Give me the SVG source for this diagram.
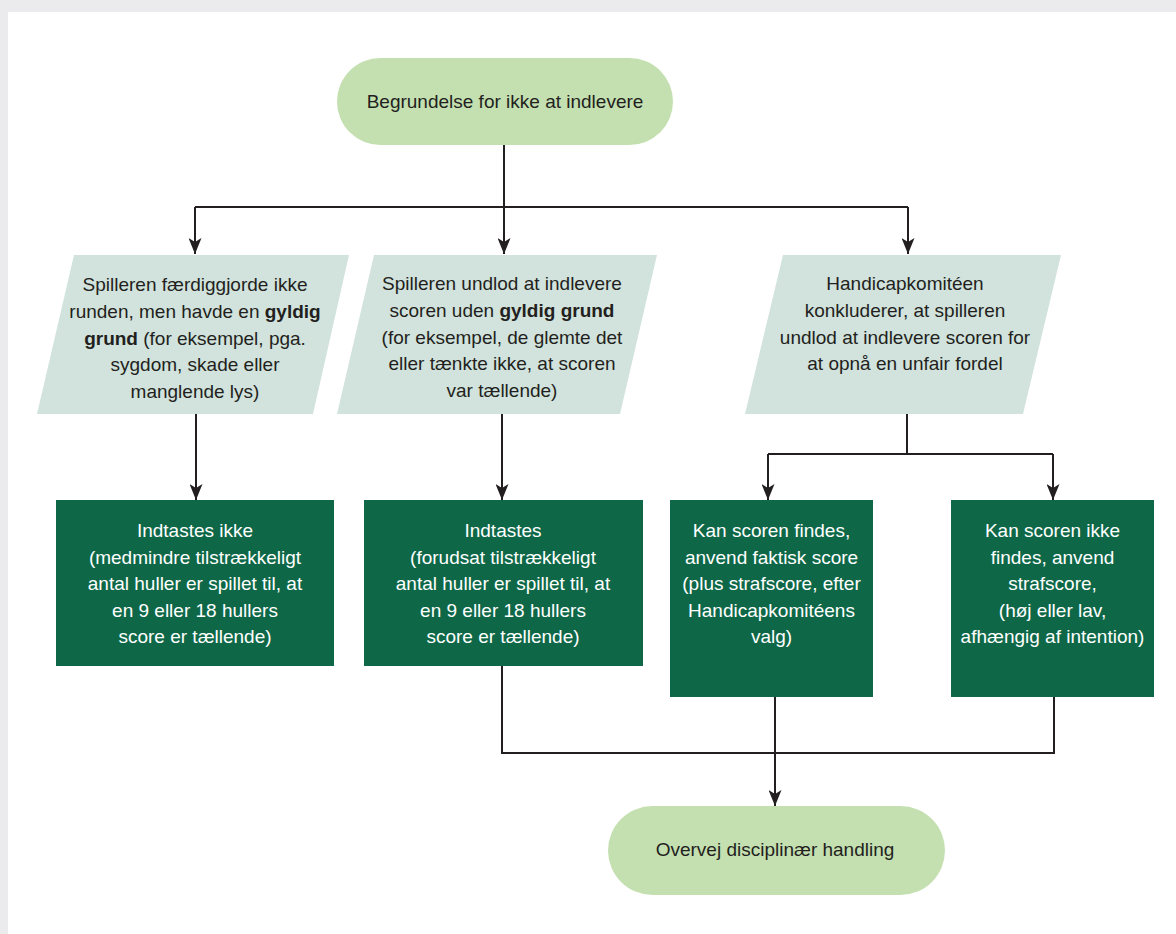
<svg xmlns="http://www.w3.org/2000/svg" width="1176" height="934" viewBox="0 0 1176 934">
<style>
  .t { font-family: "Liberation Sans", Arial, sans-serif; font-size: 19px; fill: #231f20; text-anchor: middle; }
  .w { fill: #ffffff; }
  .b { font-weight: bold; }
  .pill { fill: #c4e0b0; }
  .para { fill: #d1e3dc; }
  .box { fill: #0e6848; }
  .ln { fill: none; stroke: #231f20; stroke-width: 2; }
</style>
<defs>
  <marker id="ah" viewBox="0 0 16 13" refX="16" refY="6.5" markerWidth="16" markerHeight="13" markerUnits="userSpaceOnUse" orient="auto">
    <path d="M0,0 L16,6.5 L0,13 L4,6.5 Z" fill="#231f20"/>
  </marker>
</defs>
<rect x="0" y="0" width="1176" height="934" fill="#ebebed"/>
<rect x="8" y="12" width="1168" height="922" fill="#ffffff"/>

<g id="connectors">
  <path class="ln" d="M504,145 V207"/>
  <path class="ln" d="M195,207 H908"/>
  <path class="ln" d="M195,207 V254" marker-end="url(#ah)"/>
  <path class="ln" d="M504,207 V254" marker-end="url(#ah)"/>
  <path class="ln" d="M908,207 V254" marker-end="url(#ah)"/>
  <path class="ln" d="M196,414 V500" marker-end="url(#ah)"/>
  <path class="ln" d="M502,414 V500" marker-end="url(#ah)"/>
  <path class="ln" d="M907,414 V454 M768,454 H1053"/>
  <path class="ln" d="M768,454 V500" marker-end="url(#ah)"/>
  <path class="ln" d="M1053,454 V500" marker-end="url(#ah)"/>
  <path class="ln" d="M502,666 V753 H1054 V697"/>
  <path class="ln" d="M775,697 V806" marker-end="url(#ah)"/>
</g>

<g id="start">
  <rect class="pill" x="337" y="58" width="336" height="87" rx="43.5" ry="43.5"/>
  <text class="t" x="505" y="108">Begrundelse for ikke at indlevere</text>
</g>

<g id="reason-valid">
  <polygon class="para" points="74,255 349,255 313,414 37,414"/>
  <text class="t" x="195" y="291">Spilleren færdiggjorde ikke</text>
  <text class="t" x="195" y="318">runden, men havde en <tspan class="b">gyldig</tspan></text>
  <text class="t" x="195" y="344.5"><tspan class="b">grund</tspan> (for eksempel, pga.</text>
  <text class="t" x="195" y="371">sygdom, skade eller</text>
  <text class="t" x="195" y="398">manglende lys)</text>
</g>

<g id="reason-invalid">
  <polygon class="para" points="374,255 657,255 620,414 337,414"/>
  <text class="t" x="502" y="290">Spilleren undlod at indlevere</text>
  <text class="t" x="502" y="317">scoren uden <tspan class="b">gyldig grund</tspan></text>
  <text class="t" x="502" y="343.5">(for eksempel, de glemte det</text>
  <text class="t" x="502" y="370">eller tænkte ikke, at scoren</text>
  <text class="t" x="502" y="397">var tællende)</text>
</g>

<g id="reason-unfair">
  <polygon class="para" points="783,255 1061,255 1023,414 745,414"/>
  <text class="t" x="905" y="290">Handicapkomitéen</text>
  <text class="t" x="905" y="317">konkluderer, at spilleren</text>
  <text class="t" x="905" y="343.5">undlod at indlevere scoren for</text>
  <text class="t" x="905" y="370">at opnå en unfair fordel</text>
</g>

<g id="not-entered">
  <rect class="box" x="56" y="500" width="278" height="166"/>
  <text class="t w" x="195" y="537">Indtastes ikke</text>
  <text class="t w" x="195" y="563.5">(medmindre tilstrækkeligt</text>
  <text class="t w" x="195" y="590">antal huller er spillet til, at</text>
  <text class="t w" x="195" y="617">en 9 eller 18 hullers</text>
  <text class="t w" x="195" y="643">score er tællende)</text>
</g>

<g id="entered">
  <rect class="box" x="364" y="500" width="279" height="166"/>
  <text class="t w" x="503" y="537">Indtastes</text>
  <text class="t w" x="503" y="563.5">(forudsat tilstrækkeligt</text>
  <text class="t w" x="503" y="590">antal huller er spillet til, at</text>
  <text class="t w" x="503" y="617">en 9 eller 18 hullers</text>
  <text class="t w" x="503" y="643">score er tællende)</text>
</g>

<g id="score-found">
  <rect class="box" x="670" y="500" width="203" height="197"/>
  <text class="t w" x="771.5" y="537">Kan scoren findes,</text>
  <text class="t w" x="771.5" y="563.5">anvend faktisk score</text>
  <text class="t w" x="771.5" y="590">(plus strafscore, efter</text>
  <text class="t w" x="771.5" y="617">Handicapkomitéens</text>
  <text class="t w" x="771.5" y="643">valg)</text>
</g>

<g id="score-not-found">
  <rect class="box" x="951" y="500" width="203" height="197"/>
  <text class="t w" x="1052.5" y="537">Kan scoren ikke</text>
  <text class="t w" x="1052.5" y="563.5">findes, anvend</text>
  <text class="t w" x="1052.5" y="590">strafscore,</text>
  <text class="t w" x="1052.5" y="617">(høj eller lav,</text>
  <text class="t w" x="1052.5" y="643">afhængig af intention)</text>
</g>

<g id="end">
  <rect class="pill" x="608" y="806" width="337" height="89" rx="44.5" ry="44.5"/>
  <text class="t" x="775" y="856">Overvej disciplinær handling</text>
</g>
</svg>
